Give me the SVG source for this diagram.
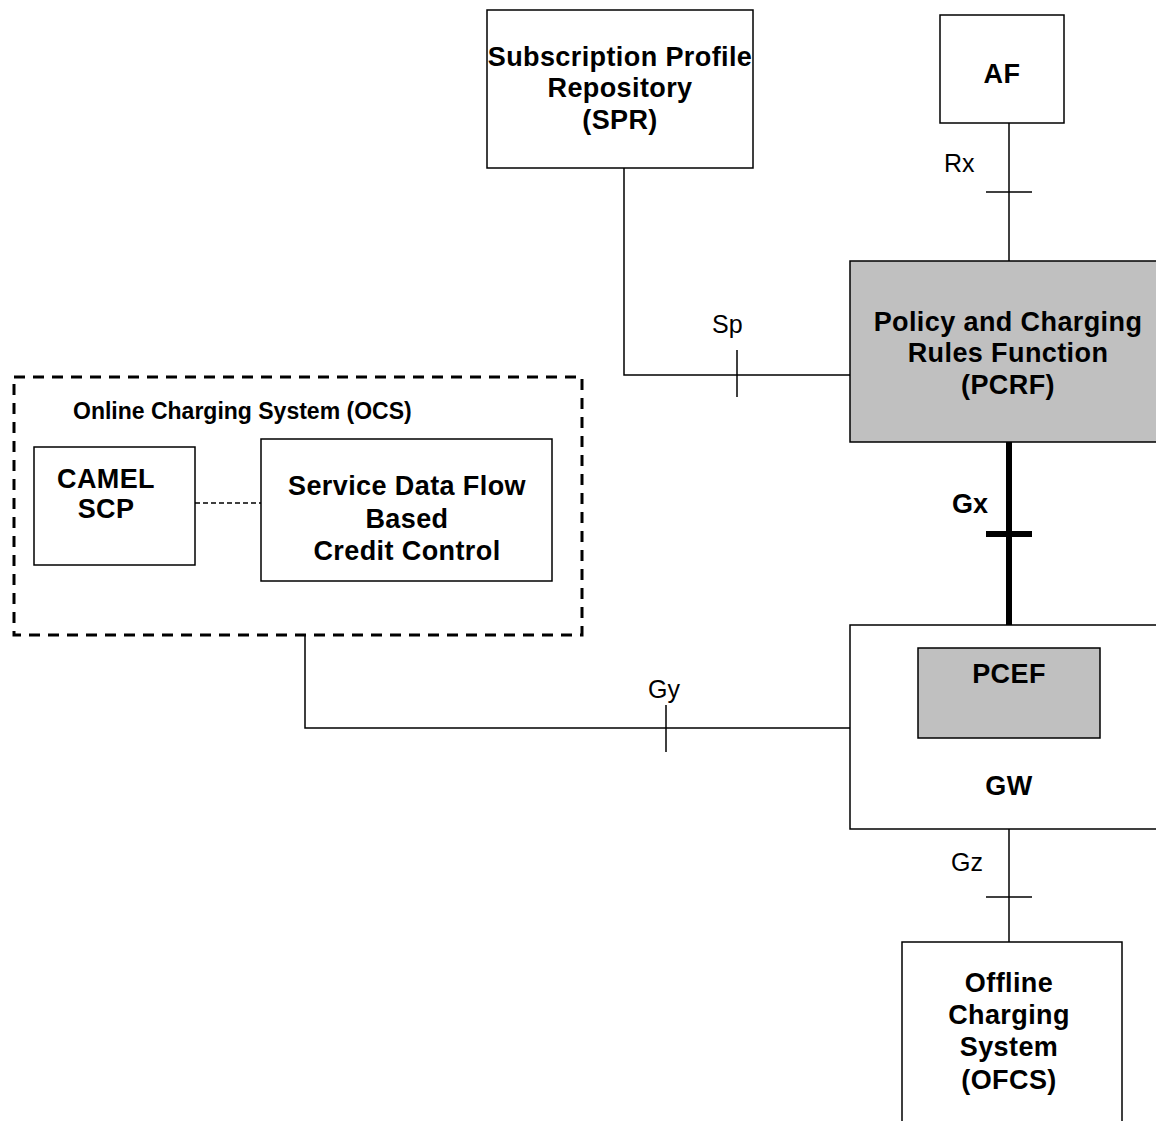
<svg xmlns="http://www.w3.org/2000/svg" width="1156" height="1121" viewBox="0 0 1156 1121">
<style>
.box{fill:#fff;stroke:#000;stroke-width:1.5}
.grey{fill:#c0c0c0;stroke:#000;stroke-width:1.5}
.t{font-family:"Liberation Sans",Arial,sans-serif;font-weight:bold;font-size:27px;letter-spacing:0.4px;text-anchor:middle;fill:#000}
.lbl{font-family:"Liberation Sans",Arial,sans-serif;font-size:25px;fill:#000}
.ln{fill:none;stroke:#000;stroke-width:1.5}
.thick{fill:none;stroke:#000;stroke-width:6}
</style>
<rect width="1156" height="1121" fill="#fff"/>
<g id="connectors">
  <path class="ln" d="M624 168 V375 H850"/>
  <path class="ln" d="M737 350 V397"/>
  <path class="ln" d="M1009 123 V261"/>
  <path class="ln" d="M986 192 H1032"/>
  <path class="thick" d="M1009 442 V648"/>
  <path class="thick" d="M986 534 H1032"/>
  <path class="ln" d="M305 635 V728 H850"/>
  <path class="ln" d="M666 705 V752"/>
  <path class="ln" d="M1009 829 V942"/>
  <path class="ln" d="M986 897 H1032"/>
  <path class="ln" d="M195 503 H261" stroke-dasharray="5 3"/>
  <text class="lbl" x="944" y="172">Rx</text>
  <text class="lbl" x="712" y="333">Sp</text>
  <text class="lbl" x="952" y="513" style="font-weight:bold;font-size:27px">Gx</text>
  <text class="lbl" x="648" y="698">Gy</text>
  <text class="lbl" x="951" y="871">Gz</text>
</g>
<g id="spr">
  <rect class="box" x="487" y="10" width="266" height="158"/>
  <text class="t" x="620" y="66">Subscription Profile</text>
  <text class="t" x="620" y="97">Repository</text>
  <text class="t" x="620" y="129">(SPR)</text>
</g>
<g id="af">
  <rect class="box" x="940" y="15" width="124" height="108"/>
  <text class="t" x="1002" y="83">AF</text>
</g>
<g id="pcrf">
  <rect class="grey" x="850" y="261" width="320" height="181"/>
  <text class="t" x="1008" y="331">Policy and Charging</text>
  <text class="t" x="1008" y="362">Rules Function</text>
  <text class="t" x="1008" y="394">(PCRF)</text>
</g>
<g id="ocs">
  <rect x="14" y="377" width="568" height="258" fill="none" stroke="#000" stroke-width="3" stroke-dasharray="11 8"/>
  <text class="t" x="73" y="419" style="text-anchor:start;font-size:23px;letter-spacing:0">Online Charging System (OCS)</text>
</g>
<g id="camel">
  <rect class="box" x="34" y="447" width="161" height="118"/>
  <text class="t" x="106" y="488">CAMEL</text>
  <text class="t" x="106" y="518">SCP</text>
</g>
<g id="sdf">
  <rect class="box" x="261" y="439" width="291" height="142"/>
  <text class="t" x="407" y="495">Service Data Flow</text>
  <text class="t" x="407" y="528">Based</text>
  <text class="t" x="407" y="560">Credit Control</text>
</g>
<g id="gw">
  <rect class="box" x="850" y="625" width="320" height="204"/>
  <text class="t" x="1009" y="795">GW</text>
</g>
<g id="pcef">
  <rect class="grey" x="918" y="648" width="182" height="90"/>
  <text class="t" x="1009" y="683">PCEF</text>
</g>
<g id="ofcs">
  <rect class="box" x="902" y="942" width="220" height="200"/>
  <text class="t" x="1009" y="992">Offline</text>
  <text class="t" x="1009" y="1024">Charging</text>
  <text class="t" x="1009" y="1056">System</text>
  <text class="t" x="1009" y="1089">(OFCS)</text>
</g>
</svg>
